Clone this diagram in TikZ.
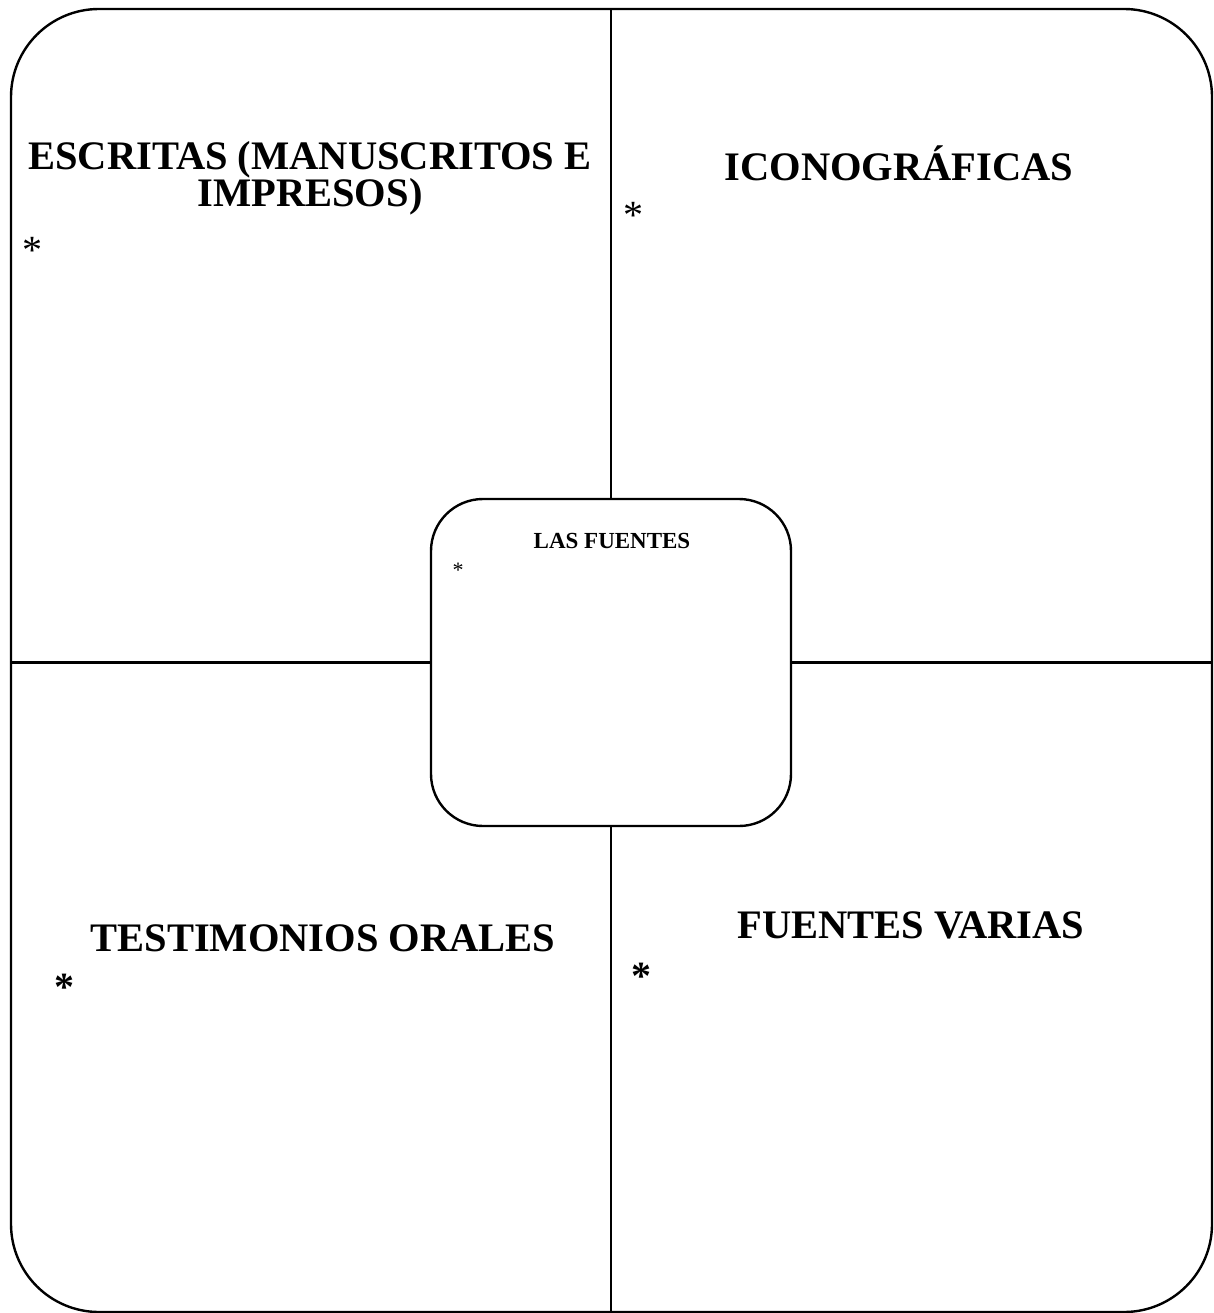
\documentclass[tikz,border=0pt]{standalone}
\usepackage{fontspec}
\setmainfont{Liberation Serif}
\begin{document}
\begin{tikzpicture}[x=1pt,y=-1pt,
  frame/.style={draw=black,line width=2.4pt,rounded corners=88pt,minimum width=1201pt,minimum height=1303pt,inner sep=0pt},
  hub/.style={draw=black,line width=2.4pt,rounded corners=52pt,minimum width=360pt,minimum height=327pt,inner sep=0pt},
  sep/.style={line width=2.2pt},
  head/.style={font=\fontsize{40.5}{37}\selectfont\bfseries,align=center,inner sep=0pt},
  star/.style={font=\fontsize{40}{40}\selectfont,inner sep=0pt}]
\useasboundingbox (0,0) rectangle (1213,1313);
\node[frame] (outer) at (611.5,660.5) {};
\node[hub] (hub) at (611,662.5) {};
\draw[sep] (hub.north) -- (hub.north |- outer.north);
\draw[sep] (hub.south) -- (hub.south |- outer.south);
\draw[sep] (hub.west) -- (hub.west -| outer.west);
\draw[sep] (hub.east) -- (hub.east -| outer.east);
\node[head] (t1) at (310,178) {ESCRITAS (MANUSCRITOS E\\IMPRESOS)};
\node[star] (s1) at (32,250) {*};
\node[head] (t2) at (899,163) {ICONOGRÁFICAS};
\node[star] (s2) at (633,215) {*};
\node[head,font=\fontsize{23}{23}\selectfont\bfseries] (t0) at (612,541) {LAS FUENTES};
\node[star,font=\fontsize{22}{22}\selectfont] (s0) at (458,570) {*};
\node[head] (t3) at (323,938) {TESTIMONIOS ORALES};
\node[star,font=\fontsize{40}{40}\selectfont\bfseries] (s3) at (64,987) {*};
\node[head] (t4) at (911,925) {FUENTES VARIAS};
\node[star,font=\fontsize{40}{40}\selectfont\bfseries] (s4) at (641,976) {*};
\end{tikzpicture}
\end{document}
